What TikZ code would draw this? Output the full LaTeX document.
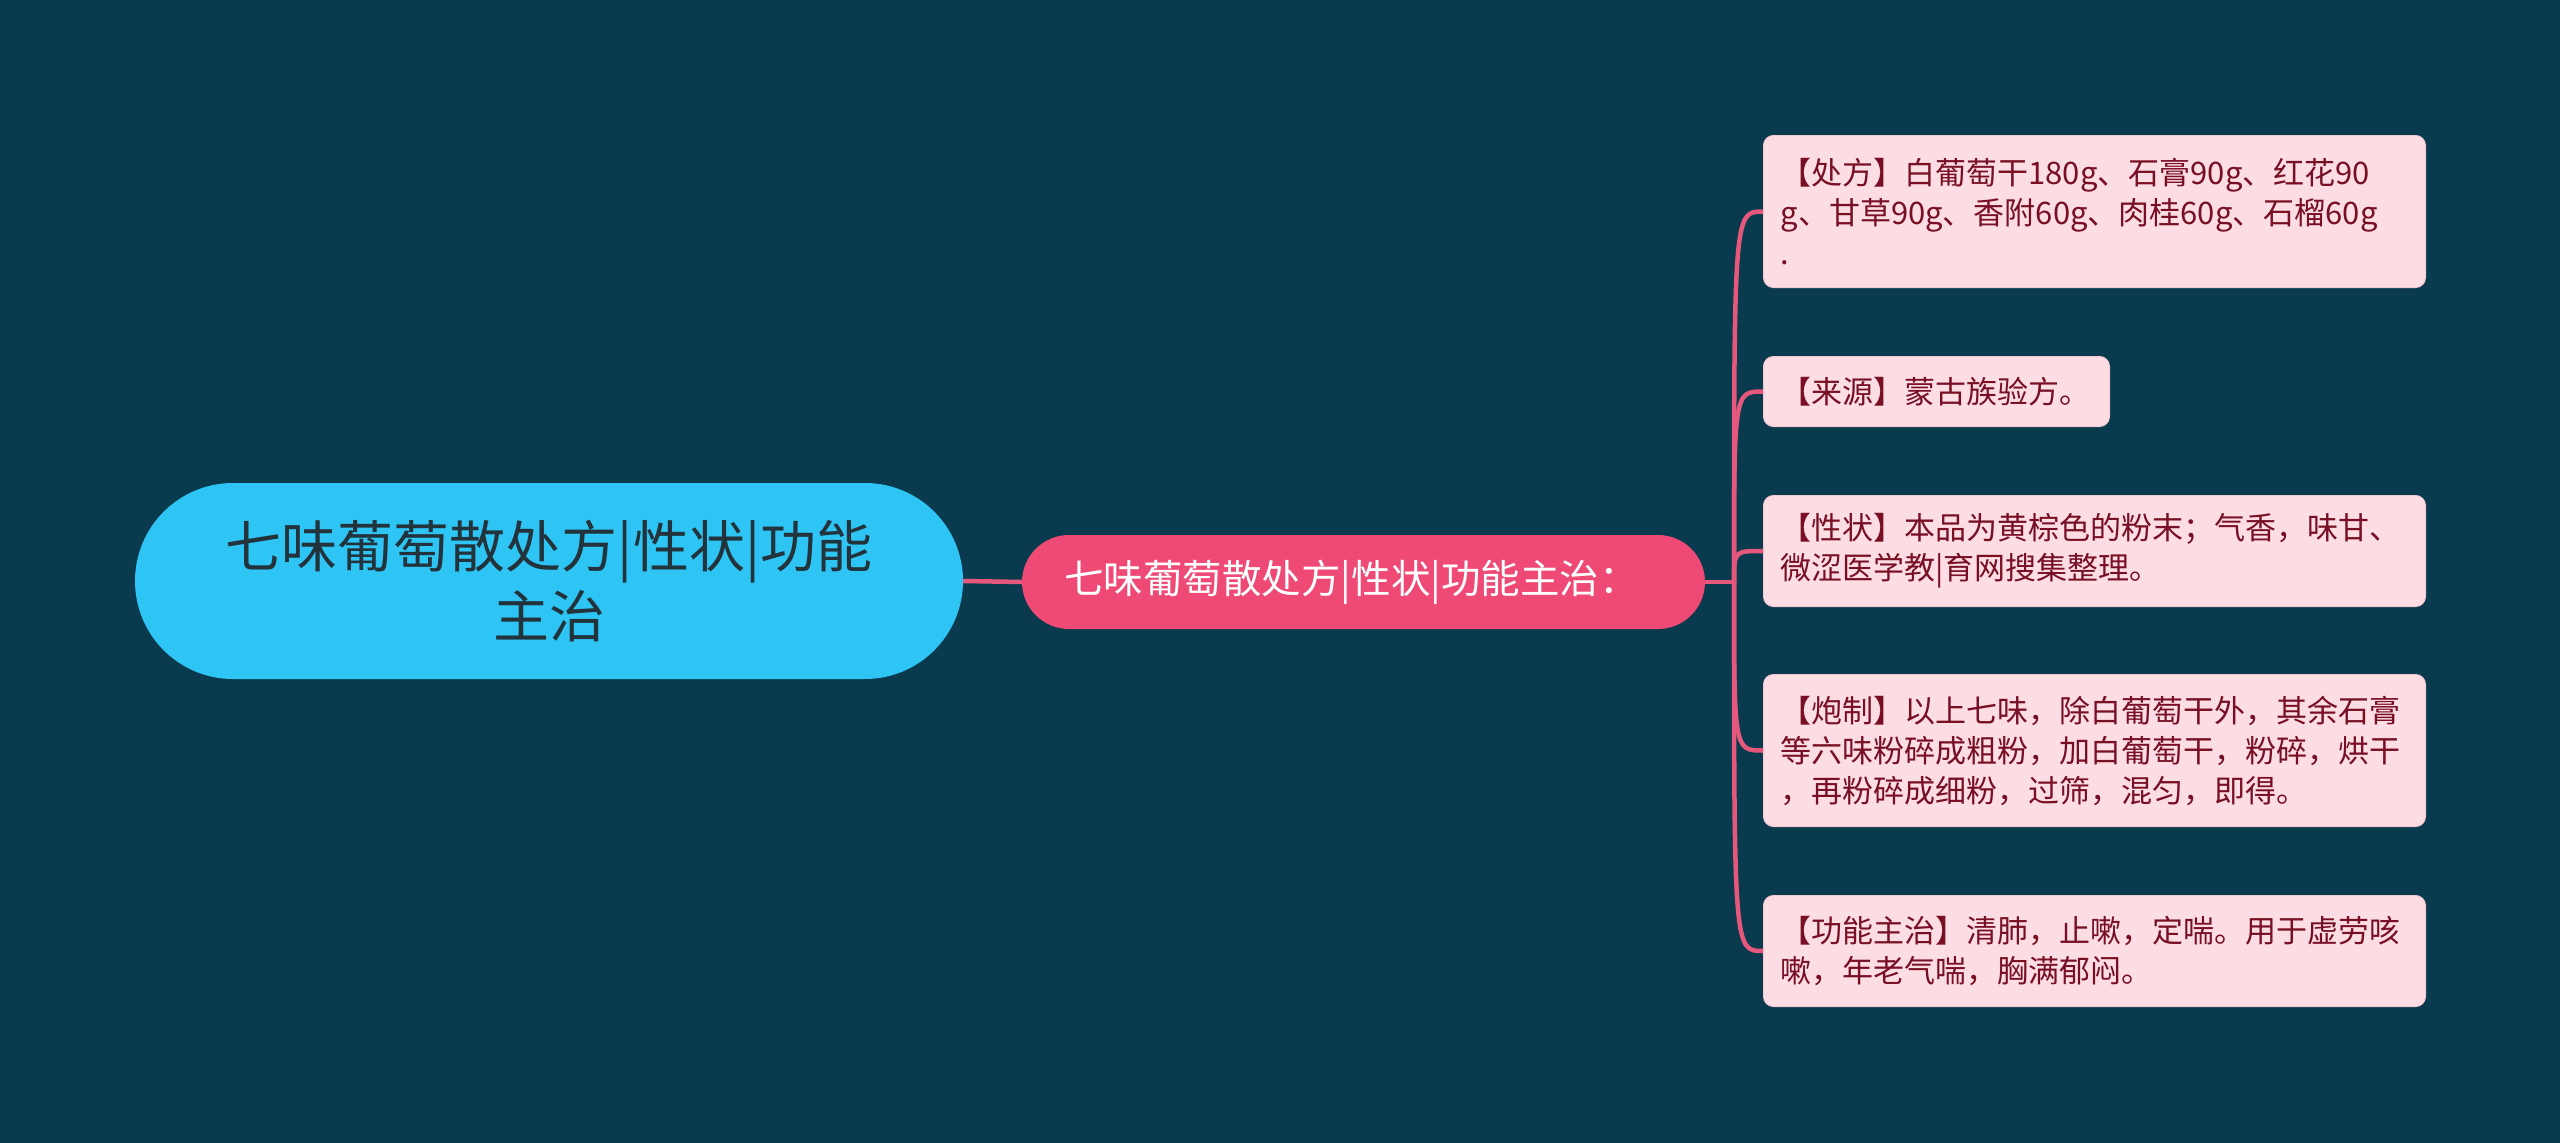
\documentclass[tikz,border=0pt]{standalone}
\usepackage{fontspec}
\setmainfont{Noto Sans CJK SC}
\definecolor{bgc}{HTML}{0A3A4E}
\definecolor{rootc}{HTML}{2EC5F5}
\definecolor{roottext}{HTML}{22333B}
\definecolor{midc}{HTML}{EE4A75}
\definecolor{linkc}{HTML}{E5587C}
\definecolor{leafc}{HTML}{FCDDE3}
\definecolor{leafb}{HTML}{F3C8D2}
\definecolor{leaftext}{HTML}{780F24}
\begin{document}
\begin{tikzpicture}[x=1pt,y=-1pt,
  conn/.style={draw=linkc, line width=4.5pt},
  rootbox/.style={fill=rootc, rounded corners=98pt, minimum width=828pt, minimum height=196pt, inner sep=0pt, align=center, text=roottext, font=\fontsize{56}{70}\selectfont},
  midbox/.style={fill=midc, rounded corners=47pt, minimum width=683pt, minimum height=94pt, inner sep=0pt, text=white, font=\fontsize{39.5}{46}\selectfont},
  leaf/.style={fill=leafc, draw=leafb, line width=1pt, rounded corners=10pt, anchor=north west, inner xsep=17pt, inner ysep=0pt, align=left, text=leaftext, font=\fontsize{31}{40}\selectfont}]
\useasboundingbox (0,0) rectangle (2560,1143);
\fill[bgc] (0,0) rectangle (2560,1143);

\node[rootbox] (root) at (549,581) {七味葡萄散处方|性状|功能\\主治};
\node[midbox] (mid) at (1363.5,582) {七味葡萄散处方|性状|功能主治：\hspace*{24pt}};

\node[leaf, text width=628pt, minimum height=152pt] (l1) at (1763,135)
  {【处方】白葡萄干180g、石膏90g、红花90\\g、甘草90g、香附60g、肉桂60g、石榴60g\\.};
\node[leaf, text width=312pt, minimum height=70pt] (l2) at (1763,356)
  {【来源】蒙古族验方。};
\node[leaf, text width=628pt, minimum height=111pt] (l3) at (1763,495)
  {【性状】本品为黄棕色的粉末；气香，味甘、\\微涩医学教|育网搜集整理。};
\node[leaf, text width=628pt, minimum height=152pt] (l4) at (1763,674)
  {【炮制】以上七味，除白葡萄干外，其余石膏\\等六味粉碎成粗粉，加白葡萄干，粉碎，烘干\\，再粉碎成细粉，过筛，混匀，即得。};
\node[leaf, text width=628pt, minimum height=111pt] (l5) at (1763,895)
  {【功能主治】清肺，止嗽，定喘。用于虚劳咳\\嗽，年老气喘，胸满郁闷。};

\coordinate (jn) at (1734,582);
\draw[conn] (root.east) -- (mid.west);
\draw[conn] (mid.east) -- (jn);
\foreach \n in {l1,l2,l3,l4,l5}
  \draw[conn] (jn) .. controls (jn |- \n.west) and (jn |- \n.west) .. (\n.west);
\end{tikzpicture}
\end{document}
